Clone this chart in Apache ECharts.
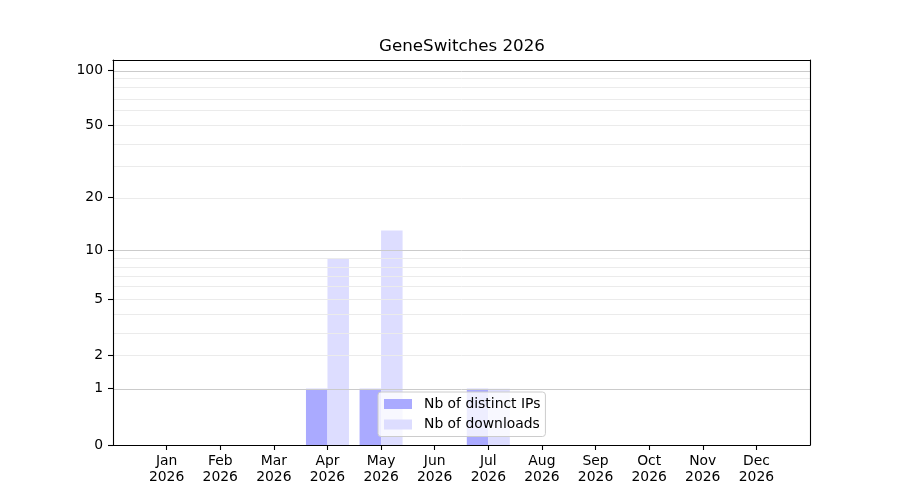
<!DOCTYPE html>
<html>
<head>
<meta charset="utf-8">
<script src="https://cdn.jsdelivr.net/npm/echarts@6/dist/echarts.min.js"></script>
<style>html,body{margin:0;padding:0;background:#fff;}#c{width:900px;height:500px;}</style>
</head>
<body>
<div id="c"></div>
<script>
const titleText = 'GeneSwitches 2026';
const months = ['Jan','Feb','Mar','Apr','May','Jun','Jul','Aug','Sep','Oct','Nov','Dec'];
const year = '2026';
const distinctIPs = [0,0,0,1,1,0,1,0,0,0,0,0];
const downloads  = [0,0,0,9,13,0,1,0,0,0,0,0];
const yTickValues = [0,1,2,5,10,20,50,100];
const majorGrid = [1,10,100];
const minorGrid = [2,3,4,5,6,7,8,9,20,30,40,50,60,70,80,90];
const yTopValue = 113.3;

const tr = v => Math.log10(v + 1);
const inv = t => Math.round(Math.pow(10, t) - 1);
const FONT = 'DejaVu Sans';
const idx = months.map((m, i) => i);

const chart = echarts.init(document.getElementById('c'), null, {renderer: 'canvas'});
const gridLine = (vals, color) => ({
  type: 'line', data: [], z: 3, silent: true,
  markLine: {
    silent: true, symbol: 'none', animation: false,
    label: {show: false},
    lineStyle: {color: color, width: 1, type: 'solid'},
    data: vals.map(v => ({yAxis: tr(v)}))
  }
});
const spine = {show: true, onZero: false, lineStyle: {color: '#000', width: 1.1}};
chart.setOption({
  animation: false,
  title: {
    text: titleText, left: 379, top: 38, padding: 0,
    textStyle: {fontFamily: FONT, fontSize: 16.7, fontWeight: 'normal', color: '#000'}
  },
  grid: {left: 113, right: 90, top: 60, bottom: 55, containLabel: false},
  legend: {
    orient: 'vertical', left: 378, top: 392, z: 20,
    padding: [5, 5, 5, 6], itemGap: 6.5,
    itemWidth: 28, itemHeight: 10, icon: 'rect',
    backgroundColor: 'rgba(255,255,255,0.8)',
    borderColor: '#cccccc', borderWidth: 1, borderRadius: 3,
    textStyle: {fontFamily: FONT, fontSize: 13.9, color: '#000', lineHeight: 14, padding: [0,0,0,7]},
    data: ['Nb of distinct IPs', 'Nb of downloads']
  },
  xAxis: [{
    type: 'value', min: -1, max: 12, z: 10,
    axisLine: spine,
    axisTick: {show: true, customValues: idx, length: 5, lineStyle: {color: '#000', width: 1.1}},
    axisLabel: {show: true, customValues: idx, margin: 8,
      formatter: v => months[Math.round(v)] + '\n' + year,
      fontFamily: FONT, fontSize: 13.9, color: '#000', lineHeight: 16},
    splitLine: {show: false}
  }, {
    type: 'value', min: -1, max: 12, position: 'top', z: 10,
    axisLine: spine,
    axisTick: {show: false}, axisLabel: {show: false}, splitLine: {show: false}
  }],
  yAxis: [{
    type: 'value', min: 0, max: tr(yTopValue), z: 10,
    axisLine: spine,
    axisTick: {show: true, customValues: yTickValues.map(tr), length: 5, lineStyle: {color: '#000', width: 1.1}},
    axisLabel: {show: true, customValues: yTickValues.map(tr), margin: 10,
      formatter: v => String(inv(v)), padding: [2, 0, 0, 0],
      fontFamily: FONT, fontSize: 13.9, color: '#000'},
    splitLine: {show: false}
  }, {
    type: 'value', min: 0, max: tr(yTopValue), position: 'right', z: 10,
    axisLine: spine,
    axisTick: {show: false}, axisLabel: {show: false}, splitLine: {show: false}
  }],
  series: [
    {
      name: 'Nb of distinct IPs', type: 'bar', barWidth: 21.5, barGap: '0%', z: 2,
      itemStyle: {color: '#aaaaff'},
      data: distinctIPs.map((v, i) => [i, tr(v)])
    },
    {
      name: 'Nb of downloads', type: 'bar', barWidth: 21.5, barGap: '0%', z: 2,
      itemStyle: {color: '#ddddff'},
      data: downloads.map((v, i) => [i, tr(v)])
    },
    gridLine(minorGrid, '#ebebeb'),
    gridLine(majorGrid, '#cbcbcb')
  ]
});
</script>
</body>
</html>
